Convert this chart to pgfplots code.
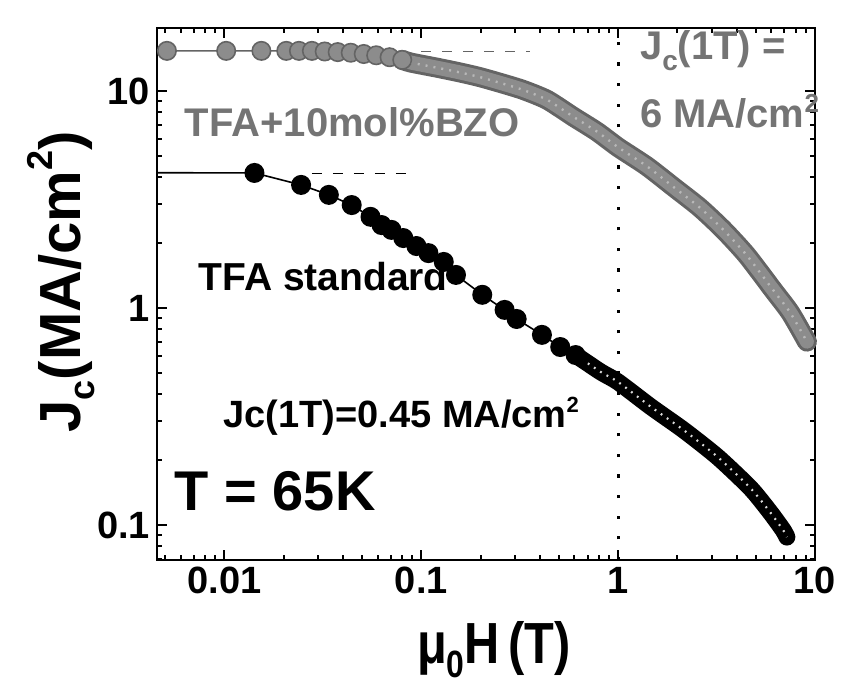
\documentclass[border=0pt]{standalone}
\usepackage{fontspec}
\setmainfont{Liberation Sans}
\usepackage{graphicx}
\usepackage{pgfplots}
\usepackage{pgfplotstable}
\pgfplotsset{compat=1.18}

\definecolor{bzo}{HTML}{8C8C8C}
\definecolor{bzodark}{HTML}{646464}
\definecolor{bzolight}{HTML}{B8B8B8}
\definecolor{bzotext}{HTML}{747474}

% TFA+10mol%BZO, single points at low field
\pgfplotstableread{
h jc
0.0051 15.3
0.0102 15.3
0.0154 15.3
0.0206 15.3
0.0239 15.3
0.0278 15.3
0.0323 15.2
0.0376 15.1
0.0438 15.0
0.051 14.8
0.059 14.6
0.069 14.3
0.080 13.9
}\bzomarks
% TFA+10mol%BZO, dense part
\pgfplotstableread{
h jc
0.080 13.9
0.0889 13.5
0.12 12.8
0.155 12.2
0.197 11.6
0.26 10.8
0.33 10.1
0.436 9.1
0.593 7.6
0.78 6.5
1.0 5.5
1.4 4.5
1.92 3.6
2.6 2.9
3.43 2.29
4.5 1.75
6.13 1.21
7.5 0.95
9.1 0.70
}\bzoband
% TFA standard, single points
\pgfplotstableread{
h jc
0.0142 4.19
0.0245 3.69
0.0339 3.32
0.0443 2.98
0.0552 2.63
0.0628 2.41
0.0705 2.29
0.081 2.10
0.0944 1.93
0.1087 1.79
0.130 1.63
0.150 1.42
0.204 1.15
0.265 0.98
0.305 0.89
0.410 0.752
0.508 0.661
0.608 0.607
}\stdmarks
% TFA standard, dense part
\pgfplotstableread{
h jc
0.608 0.607
0.817 0.507
1.0 0.456
1.47 0.350
2.15 0.274
3.20 0.206
4.70 0.148
5.9 0.115
6.89 0.0948
7.2 0.088
}\stdband

\begin{document}
\begin{tikzpicture}
\begin{axis}[
  scale only axis, width=329pt, height=266pt,
  xmode=log, ymode=log,
  xmin=0.00454, xmax=10, ymin=0.069, ymax=19.5,
  xtick={0.01,0.1,1,10}, xticklabels={0.01,0.1,1,10},
  ytick={0.1,1,10}, yticklabels={0.1,1,10},
  minor xtick={0.005,0.006,0.007,0.008,0.009,0.02,0.03,0.04,0.05,0.06,0.07,0.08,0.09,0.2,0.3,0.4,0.5,0.6,0.7,0.8,0.9,2,3,4,5,6,7,8,9},
  minor ytick={0.07,0.08,0.09,0.2,0.3,0.4,0.5,0.6,0.7,0.8,0.9,2,3,4,5,6,7,8,9},
  tick align=inside, major tick length=5pt, minor tick length=2.5pt,
  every tick/.style={black, line width=1pt},
  axis line style={line width=1.2pt},
  ticklabel style={font=\fontsize{19}{19}\selectfont\bfseries},
  xlabel={\scalebox{0.84}[1]{μ\raisebox{-0.45ex}{\fontsize{19}{19}\selectfont 0}H\hspace{0.18em}(T)}},
  ylabel={J\raisebox{-0.45ex}{\fontsize{18}{18}\selectfont c}(MA/cm\raisebox{0.9ex}{\fontsize{18}{18}\selectfont 2})},
  label style={font=\fontsize{29}{29}\selectfont\bfseries},
  xlabel style={at={(axis description cs:0.512,-0.194)}, anchor=base},
  ylabel style={at={(axis description cs:-0.146,0.523)}, anchor=center, rotate=0},
  clip=false,
]
% vertical guide at 1 T
\addplot[black, line width=1.6pt, dash pattern=on 1.6pt off 8.7pt] coordinates {(1,0.069) (1,19.5)};

% TFA+10mol%BZO
\addplot[bzodark, line width=0.8pt] coordinates {(0.00454,15.3) (0.0051,15.3)};
\addplot[bzodark, line width=0.7pt, dash pattern=on 5pt off 5.5pt] coordinates {(0.1,15.2) (0.356,15.2)};
\addplot[bzodark, line width=0.8pt, mark=*, mark size=4.6pt,
  mark options={fill=bzo, draw=bzodark, line width=0.8pt}] table[x=h, y=jc] {\bzomarks};
\addplot[bzodark, smooth, tension=0.4, line width=10pt, line cap=round, line join=round] table[x=h, y=jc] {\bzoband};
\addplot[bzo, smooth, tension=0.4, line width=7pt, line cap=round, line join=round] table[x=h, y=jc] {\bzoband};
\addplot[bzolight, smooth, tension=0.4, line width=1.2pt, dash pattern=on 1pt off 3pt] table[x=h, y=jc] {\bzoband};

% TFA standard
\addplot[black, line width=0.8pt] coordinates {(0.00454,4.2) (0.0142,4.19)};
\addplot[black, line width=0.7pt, dash pattern=on 5pt off 5.5pt] coordinates {(0.0278,4.17) (0.086,4.17)};
\addplot[black, line width=0.8pt, mark=*, mark size=4.6pt,
  mark options={fill=black, draw=black}] table[x=h, y=jc] {\stdmarks};
\addplot[black, smooth, tension=0.4, line width=8.5pt, line cap=round, line join=round] table[x=h, y=jc] {\stdband};
\addplot[white!85!black, smooth, tension=0.4, line width=1.1pt, dash pattern=on 0.9pt off 2.8pt] table[x=h, y=jc] {\stdband};

% annotations
\node[anchor=base west, text=bzotext, font=\fontsize{20}{20}\selectfont\bfseries]
  at (axis cs:0.0058,6.14) {TFA+10mol\%BZO};
\node[anchor=base west, text=bzotext, font=\fontsize{20}{20}\selectfont\bfseries]
  at (axis cs:1.19,13.9) {J\raisebox{-0.5ex}{\fontsize{14}{14}\selectfont c}(1T) =};
\node[anchor=base west, text=bzotext, font=\fontsize{20}{20}\selectfont\bfseries]
  at (axis cs:1.19,6.75) {6 MA/cm\raisebox{0.75ex}{\fontsize{13}{13}\selectfont 2}};
\node[anchor=base west, font=\fontsize{19.5}{19.5}\selectfont\bfseries]
  at (axis cs:0.0068,1.21) {TFA standard};
\node[anchor=base west, font=\fontsize{19}{19}\selectfont\bfseries]
  at (axis cs:0.0091,0.28) {Jc(1T)=0.45 MA/cm\raisebox{0.75ex}{\fontsize{11}{11}\selectfont 2}};
\node[anchor=base west, font=\fontsize{28}{28}\selectfont\bfseries]
  at (axis cs:0.00515,0.117) {T = 65K};
\end{axis}
\path (-78.5pt,-66pt) rectangle (343pt,280pt);
\end{tikzpicture}
\end{document}
